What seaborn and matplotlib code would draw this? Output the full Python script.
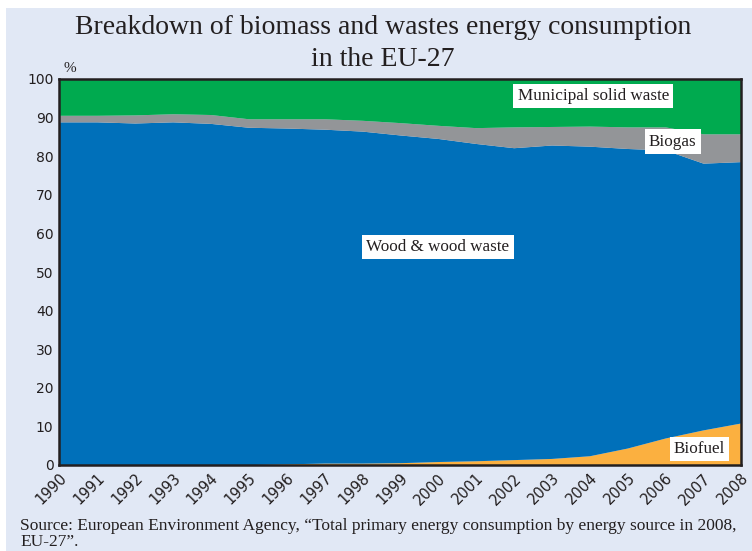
import numpy as np
import matplotlib.pyplot as plt
from matplotlib.patches import Rectangle
import seaborn as sns

# Data (shares in %)
years = list(range(1990, 2009))
biofuel = [0, 0, 0, 0, 0, 0.1, 0.3, 0.5, 0.5, 0.6, 0.9, 1.1, 1.4, 1.7, 2.4, 4.4, 7.0, 9.1, 10.9]
wood = [88.9, 88.9, 88.6, 88.9, 88.5, 87.4, 87.0, 86.5, 86.0, 84.9, 83.7, 82.2, 80.8, 81.2, 80.2, 77.6, 74.6, 69.1, 67.7]
biogas = [1.7, 1.7, 2.1, 2.1, 2.3, 2.2, 2.4, 2.7, 2.8, 3.2, 3.4, 4.1, 5.4, 4.8, 5.2, 5.6, 6.0, 7.6, 7.2]
msw = [9.4, 9.4, 9.3, 9.0, 9.2, 10.3, 10.3, 10.3, 10.7, 11.3, 12.0, 12.6, 12.4, 12.3, 12.2, 12.4, 12.4, 14.2, 14.2]
series_names = ['Biofuel', 'Wood & wood waste', 'Biogas', 'Municipal solid waste']

colors = ['#FBB040', '#0070BA', '#939598', '#00AA4F']
bg = '#E1E8F5'
ink = '#231F20'

sns.set_style('white')
plt.rcParams['font.family'] = ['DejaVu Sans']

fig = plt.figure(figsize=(7.52, 5.51), dpi=100, facecolor='white')
fig.patches.append(Rectangle((0.008, 0), 0.992, 1 - 8 / 551, transform=fig.transFigure,
                             facecolor=bg, edgecolor='none', zorder=-5))
ax = fig.add_axes([59 / 752, 1 - 465 / 551, (741 - 59) / 752, (465 - 79) / 551])

ax.stackplot(years, biofuel, wood, biogas, msw, colors=colors, labels=series_names, linewidth=0)

ax.set_xlim(1990, 2008)
ax.set_ylim(0, 100)
ax.set_xticks(years)
ax.set_xticklabels([str(y) for y in years], rotation=45, ha='right', rotation_mode='anchor', fontsize=10.5, color=ink)
ax.set_yticks(range(0, 101, 10))
ax.tick_params(axis='y', labelsize=10, labelcolor=ink)
ax.tick_params(axis='both', direction='in', length=5, width=1.8, color=ink, pad=4)
for s in ax.spines.values():
    s.set_color(ink)
    s.set_linewidth(1.8)
ax.set_facecolor(bg)

box = dict(facecolor='white', edgecolor='none', pad=3)
serif = 'Liberation Serif'
ax.text(2004.1, 95.6, 'Municipal solid waste', family=serif, fontsize=12.3, ha='center', va='center', bbox=box, color=ink)
ax.text(2006.2, 83.8, 'Biogas', family=serif, fontsize=12.3, ha='center', va='center', bbox=box, color=ink)
ax.text(2000.0, 56.5, 'Wood & wood waste', family=serif, fontsize=12.3, ha='center', va='center', bbox=box, color=ink)
ax.text(2006.9, 4.1, 'Biofuel', family=serif, fontsize=12.3, ha='center', va='center', bbox=box, color=ink)

fig.text(383 / 752, 1 - 28 / 551, 'Breakdown of biomass and wastes energy consumption', family=serif,
         fontsize=20, ha='center', va='center', color=ink)
fig.text(383 / 752, 1 - 60 / 551, 'in the EU-27', family=serif,
         fontsize=20, ha='center', va='center', color=ink)
fig.text(70 / 752, 1 - 68 / 551, '%', family=serif, fontsize=11, ha='center', va='center', color=ink)
fig.text(20 / 752, 1 - 526 / 551,
         'Source: European Environment Agency, \u201cTotal primary energy consumption by energy source in 2008,',
         family=serif, fontsize=12.5, ha='left', va='center', color=ink)
fig.text(20 / 752, 1 - 542 / 551, 'EU-27\u201d.',
         family=serif, fontsize=12.5, ha='left', va='center', color=ink)

fig.savefig('out.png', dpi=100, facecolor=fig.get_facecolor())
